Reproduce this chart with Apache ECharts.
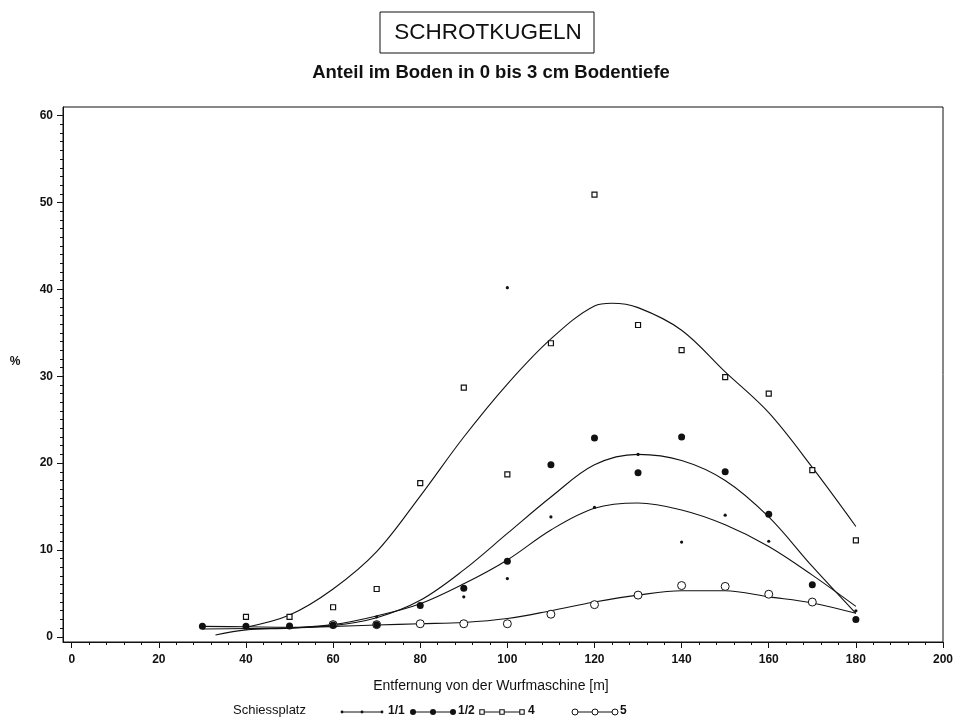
<!DOCTYPE html>
<html>
<head>
<meta charset="utf-8">
<script src="https://cdn.jsdelivr.net/npm/echarts@6.0.0/dist/echarts.min.js"></script>
<style>html,body{margin:0;padding:0;background:#fff}#c{width:959px;height:722px}</style>
</head>
<body>
<div id="c"></div>
<script>
// ---- data ----
const xTickLabels = [0, 20, 40, 60, 80, 100, 120, 140, 160, 180, 200];
const yTickLabels = [0, 10, 20, 30, 40, 50, 60];

// Schiessplatz 1/1 (small stars)
const s11X = [70, 90, 100, 100, 110, 120, 130, 140, 150, 160, 180];
const s11Y = [2.3, 4.6, 6.7, 40.2, 13.8, 14.9, 21.0, 10.9, 14.0, 11.0, 3.0];
// Schiessplatz 1/2 (filled circles)
const s12X = [30, 40, 50, 60, 70, 80, 90, 100, 110, 120, 130, 140, 150, 160, 170, 180];
const s12Y = [1.2, 1.2, 1.25, 1.35, 1.4, 3.6, 5.6, 8.7, 19.8, 22.9, 18.9, 23.0, 19.0, 14.1, 6.0, 2.0];
// Schiessplatz 4 (open squares)
const s4X = [40, 50, 60, 70, 80, 90, 100, 110, 120, 130, 140, 150, 160, 170, 180];
const s4Y = [2.3, 2.3, 3.4, 5.5, 17.7, 28.7, 18.7, 33.8, 50.9, 35.9, 33.0, 29.9, 28.0, 19.2, 11.1];
// Schiessplatz 5 (open circles)
const s5X = [60, 70, 80, 90, 100, 110, 120, 130, 140, 150, 160, 170];
const s5Y = [1.4, 1.4, 1.5, 1.5, 1.5, 2.6, 3.7, 4.8, 5.9, 5.8, 4.9, 4.0];

// smoothed fit curves
const fit11X = [33, 40, 50, 60, 70, 80, 90, 100, 110, 120, 130, 140, 150, 160, 170, 180];
const fit11Y = [0.2, 0.8, 1.0, 1.4, 2.4, 3.8, 6.1, 8.85, 12.3, 14.8, 15.4, 14.6, 12.9, 10.4, 7.1, 3.5];
const fit12X = [30, 40, 50, 60, 70, 80, 90, 100, 110, 120, 130, 140, 150, 160, 170, 180];
const fit12Y = [1.2, 1.15, 1.1, 1.3, 2.2, 4.2, 7.7, 11.9, 16.1, 19.8, 21.0, 20.3, 18.0, 13.8, 8.1, 2.7];
const fit4X = [40, 50, 60, 70, 80, 90, 100, 110, 120, 124, 130, 140, 150, 160, 170, 180];
const fit4Y = [1.1, 2.5, 5.5, 9.8, 16.2, 23.0, 29.1, 34.3, 38.1, 38.4, 37.9, 35.3, 30.5, 25.8, 19.5, 12.7];
const fit5X = [30, 40, 50, 60, 70, 80, 90, 100, 110, 120, 130, 140, 150, 160, 170, 180];
const fit5Y = [0.9, 0.95, 1.0, 1.2, 1.35, 1.5, 1.65, 2.1, 3.0, 4.0, 4.8, 5.3, 5.3, 4.6, 3.9, 2.7];

const legendNames = ['1/1', '1/2', '4', '5'];

// ---- helpers ----
const zip = (xs, ys) => xs.map((x, i) => [x, ys[i]]);
const range = (a, b, s) => { const r = []; for (let v = a; v <= b + 1e-9; v += s) r.push(+v.toFixed(4)); return r; };

const FONT = 'Liberation Sans, Arial, sans-serif';
const INK = '#111';

const chart = echarts.init(document.getElementById('c'), null, { renderer: 'canvas' });

const xCommon = { type: 'value', min: -2, max: 200, position: 'bottom', splitLine: { show: false } };
const yCommon = { type: 'value', min: -0.6, max: 61, position: 'left', splitLine: { show: false } };

function curve(xs, ys) {
  return {
    type: 'line', data: zip(xs, ys), smooth: 0.35, showSymbol: false, symbol: 'none',
    lineStyle: { color: INK, width: 1.1 }, silent: true, z: 2
  };
}

// legend drawn as graphic elements (line with three markers)
const legendY = 712;
const legendItems = [
  { s: 342, lab: 388, kind: 'star' },
  { s: 413, lab: 458, kind: 'dot' },
  { s: 482, lab: 528, kind: 'square' },
  { s: 575, lab: 620, kind: 'ring' }
];
const graphics = [];
graphics.push({ type: 'text', left: 233, top: legendY - 8, style: { text: 'Schiessplatz', font: '13px ' + FONT, fill: INK } });
legendItems.forEach((it, i) => {
  graphics.push({ type: 'line', shape: { x1: it.s, y1: legendY, x2: it.s + 40, y2: legendY }, style: { stroke: INK, lineWidth: 1 } });
  [0, 20, 40].forEach(d => {
    const cx = it.s + d;
    if (it.kind === 'star') graphics.push({ type: 'circle', shape: { cx, cy: legendY, r: 1.4 }, style: { fill: INK } });
    if (it.kind === 'dot') graphics.push({ type: 'circle', shape: { cx, cy: legendY, r: 3 }, style: { fill: INK } });
    if (it.kind === 'square') graphics.push({ type: 'rect', shape: { x: cx - 2.2, y: legendY - 2.2, width: 4.4, height: 4.4 }, style: { fill: '#fff', stroke: INK, lineWidth: 1.1 } });
    if (it.kind === 'ring') graphics.push({ type: 'circle', shape: { cx, cy: legendY, r: 3 }, style: { fill: '#fff', stroke: INK, lineWidth: 1 } });
  });
  graphics.push({ type: 'text', left: it.lab, top: legendY - 7, style: { text: legendNames[i], font: 'bold 12px ' + FONT, fill: INK } });
});
// title box and texts
graphics.push({ type: 'rect', shape: { x: 380, y: 12, width: 214, height: 41 }, style: { fill: 'none', stroke: INK, lineWidth: 1 } });
graphics.push({ type: 'text', x: 488, y: 33, style: { text: 'SCHROTKUGELN', font: '22.5px ' + FONT, fill: INK, textAlign: 'center', textVerticalAlign: 'middle' } });
graphics.push({ type: 'text', x: 491, y: 73, style: { text: 'Anteil im Boden in 0 bis 3 cm Bodentiefe', font: 'bold 18.5px ' + FONT, fill: INK, textAlign: 'center', textVerticalAlign: 'middle' } });
graphics.push({ type: 'text', x: 491, y: 686, style: { text: 'Entfernung von der Wurfmaschine [m]', font: '14px ' + FONT, fill: INK, textAlign: 'center', textVerticalAlign: 'middle' } });
graphics.push({ type: 'text', x: 15, y: 362, style: { text: '%', font: 'bold 12px ' + FONT, fill: INK, textAlign: 'center', textVerticalAlign: 'middle' } });

const option = {
  backgroundColor: '#fff',
  animation: false,
  grid: { left: 63, right: 16, top: 107, bottom: 80, show: true, borderColor: INK, borderWidth: 1, backgroundColor: 'transparent' },
  xAxis: [
    Object.assign({}, xCommon, {
      axisLine: { show: true, onZero: false, lineStyle: { color: INK, width: 1 } },
      axisTick: { show: true, customValues: range(-2, 200, 2).filter(v => Math.abs(v % 4) < 1e-6), length: 3, lineStyle: { color: INK } },
      axisLabel: { show: true, customValues: xTickLabels, margin: 12, color: INK, fontFamily: FONT, fontSize: 12, fontWeight: 'bold' }
    }),
    Object.assign({}, xCommon, {
      axisLine: { show: false, onZero: false },
      axisTick: { show: true, customValues: xTickLabels, length: 6, lineStyle: { color: INK } },
      axisLabel: { show: false }
    })
  ],
  yAxis: [
    Object.assign({}, yCommon, {
      axisLine: { show: true, onZero: false, lineStyle: { color: INK, width: 1 } },
      axisTick: { show: true, customValues: range(0, 60, 1), length: 3, lineStyle: { color: INK } },
      axisLabel: { show: true, customValues: yTickLabels, margin: 10, color: INK, fontFamily: FONT, fontSize: 12, fontWeight: 'bold' }
    }),
    Object.assign({}, yCommon, {
      axisLine: { show: false, onZero: false },
      axisTick: { show: true, customValues: yTickLabels, length: 6, lineStyle: { color: INK } },
      axisLabel: { show: false }
    })
  ],
  graphic: graphics,
  series: [
    curve(fit4X, fit4Y),
    curve(fit12X, fit12Y),
    curve(fit11X, fit11Y),
    curve(fit5X, fit5Y),
    { name: '4', type: 'scatter', data: zip(s4X, s4Y), symbol: 'rect', symbolSize: 5,
      itemStyle: { color: '#fff', borderColor: INK, borderWidth: 1.2, opacity: 1 }, z: 3 },
    { name: '5', type: 'scatter', data: zip(s5X, s5Y), symbol: 'circle', symbolSize: 8,
      itemStyle: { color: '#fff', borderColor: INK, borderWidth: 1, opacity: 1 }, z: 3 },
    { name: '1/2', type: 'scatter', data: zip(s12X, s12Y), symbol: 'circle', symbolSize: 7,
      itemStyle: { color: INK, opacity: 1 }, z: 4 },
    { name: '1/1', type: 'scatter', data: zip(s11X, s11Y), symbol: 'circle', symbolSize: 3.2,
      itemStyle: { color: INK, opacity: 1 }, z: 5 }
  ]
};
chart.setOption(option);
</script>
</body>
</html>
